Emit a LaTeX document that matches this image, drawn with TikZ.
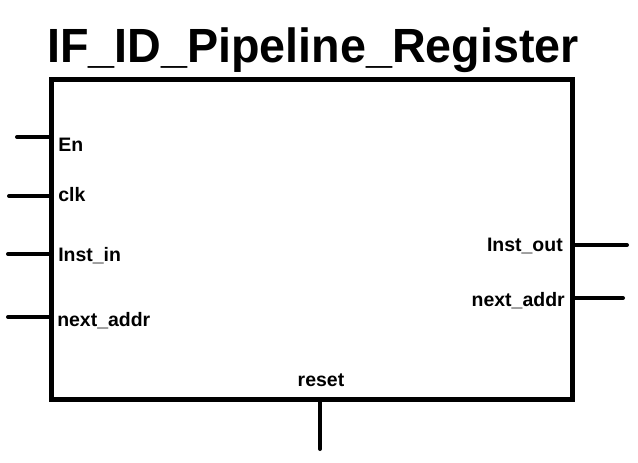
\documentclass[tikz,border=0pt]{standalone}
\usepackage{fontspec}
\setmainfont{Liberation Sans}
\usetikzlibrary{positioning}

\begin{document}
\begin{tikzpicture}[
  x=0.75pt, y=-0.75pt,
  font=\bfseries,
  regbox/.style={rectangle, draw, line width=3.75pt, inner sep=0pt,
    minimum width=391.1pt, minimum height=240pt},
  pinlbl/.style={font=\fontsize{14.6pt}{16pt}\bfseries\selectfont, inner sep=0pt},
  pin/.style={line width=3pt, line cap=round}
]
\useasboundingbox (0,0) rectangle (638,462);
\node[font=\fontsize{36pt}{42pt}\bfseries\selectfont, inner sep=0pt, anchor=base] (title) at (313,62) {\scalebox{0.972}[1]{IF\_ID\_Pipeline\_Register}};
\node[regbox] (reg) at (311.75,239.5) {};
% inputs
\coordinate (en) at (17,137);
\coordinate (clk) at (9,196);
\coordinate (instin) at (8,254);
\coordinate (nain) at (8,317);
\draw[pin] (en) -- (en -| reg.west);
\draw[pin] (clk) -- (clk -| reg.west);
\draw[pin] (instin) -- (instin -| reg.west);
\draw[pin] (nain) -- (nain -| reg.west);
\node[pinlbl, anchor=base west] (enlbl) at (58,151) {En};
\node[pinlbl, anchor=base west] (clklbl) at (58,201) {clk};
\node[pinlbl, anchor=base west] (instinlbl) at (58,261.5) {Inst\_in};
\node[pinlbl, anchor=base west] (nainlbl) at (57,326.5) {next\_addr};
% outputs
\coordinate (instout) at (627,245);
\coordinate (naout) at (623,298);
\draw[pin] (reg.east |- instout) -- (instout);
\draw[pin] (reg.east |- naout) -- (naout);
\node[pinlbl, anchor=base east] (instoutlbl) at (563,251.5) {Inst\_out};
\node[pinlbl, anchor=base east] (naoutlbl) at (565,306) {next\_addr};
% reset
\coordinate (rst) at (320,449);
\draw[pin] (reg.south -| rst) -- (rst);
\node[pinlbl, anchor=base] (rstlbl) at (321,386.5) {reset};
\end{tikzpicture}
\end{document}
